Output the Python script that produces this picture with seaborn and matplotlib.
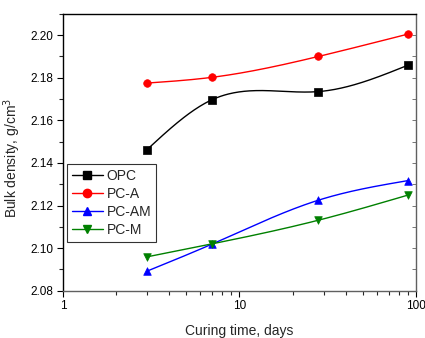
import numpy as np
import pandas as pd
import matplotlib
matplotlib.use("Agg")
import matplotlib.pyplot as plt
from matplotlib.lines import Line2D
from matplotlib.ticker import LogLocator, FixedLocator, NullFormatter, FormatStrFormatter
import seaborn as sns

# data
days = [3, 7, 28, 90]
opc = [2.1463, 2.1697, 2.1735, 2.1859]
pc_a = [2.1775, 2.1802, 2.1900, 2.2005]
pc_am = [2.0892, 2.1019, 2.1225, 2.1317]
pc_m = [2.0959, 2.1020, 2.1131, 2.1249]
names = ["OPC", "PC-A", "PC-AM", "PC-M"]
colors = ["black", "red", "blue", "green"]
markers = ["s", "o", "^", "v"]


def spline(x, y, n=200):
    # natural cubic spline through the points (in log x), used only to draw the connecting line
    x = np.log10(np.asarray(x, float))
    y = np.asarray(y, float)
    k = len(x)
    h = np.diff(x)
    A = np.zeros((k, k))
    b = np.zeros(k)
    A[0, 0] = A[-1, -1] = 1
    for i in range(1, k - 1):
        A[i, i - 1] = h[i - 1]
        A[i, i] = 2 * (h[i - 1] + h[i])
        A[i, i + 1] = h[i]
        b[i] = 6 * ((y[i + 1] - y[i]) / h[i] - (y[i] - y[i - 1]) / h[i - 1])
    M = np.linalg.solve(A, b)
    xs = np.linspace(x[0], x[-1], n)
    j = np.clip(np.searchsorted(x, xs) - 1, 0, k - 2)
    t0 = x[j + 1] - xs
    t1 = xs - x[j]
    hj = h[j]
    ys = (M[j] * t0**3 + M[j + 1] * t1**3) / (6 * hj) \
        + (y[j] / hj - M[j] * hj / 6) * t0 + (y[j + 1] / hj - M[j + 1] * hj / 6) * t1
    return 10**xs, ys


sns.set_style("ticks")
plt.rcParams['font.family'] = ['Liberation Sans', 'DejaVu Sans']

fig = plt.figure(figsize=(4.25, 3.38), dpi=100)
ax = fig.add_axes([0.148, 0.140, 0.831, 0.819])

handles = []
for name, vals, c, m in zip(names, [opc, pc_a, pc_am, pc_m], colors, markers):
    xs, ys = spline(days, vals)
    sns.lineplot(x=xs, y=ys, color=c, lw=1.0, ax=ax, legend=False, sort=False)
    df = pd.DataFrame({"days": days, "val": vals})
    sns.scatterplot(data=df, x="days", y="val", color=c, marker=m, s=30,
                    edgecolor=c, linewidth=0.5, ax=ax, legend=False, zorder=3)
    handles.append(Line2D([], [], color=c, lw=1.0, marker=m, markersize=6,
                          markeredgecolor=c, label=name))

ax.set_xscale("log")
ax.set_xlim(1, 100)
ax.set_ylim(2.08, 2.21)
ax.xaxis.set_major_locator(FixedLocator([1, 10, 100]))
ax.xaxis.set_minor_locator(LogLocator(base=10, subs=np.arange(2, 10)))
ax.xaxis.set_major_formatter(FormatStrFormatter("%g"))
ax.xaxis.set_minor_formatter(NullFormatter())
ax.yaxis.set_major_locator(FixedLocator([2.08, 2.10, 2.12, 2.14, 2.16, 2.18, 2.20]))
ax.yaxis.set_minor_locator(FixedLocator([2.09, 2.11, 2.13, 2.15, 2.17, 2.19, 2.21]))
ax.yaxis.set_major_formatter(FormatStrFormatter("%.2f"))

ax.tick_params(axis="both", which="major", direction="out", length=4, width=0.8,
               labelsize=8.5, pad=3, colors="black")
ax.tick_params(axis="both", which="minor", direction="out", length=3, width=0.8)
for side in ["top", "right"]:
    ax.spines[side].set_visible(True)
ax.spines["left"].set_color("black")
ax.spines["top"].set_color("black")
ax.spines["bottom"].set_color("#606060")
ax.spines["right"].set_color("#606060")
for sp in ax.spines.values():
    sp.set_linewidth(1.0)

# mirrored inward ticks on the right side
ax_r = ax.secondary_yaxis("right")
ax_r.yaxis.set_major_locator(FixedLocator([2.08, 2.10, 2.12, 2.14, 2.16, 2.18, 2.20]))
ax_r.yaxis.set_minor_locator(FixedLocator([2.09, 2.11, 2.13, 2.15, 2.17, 2.19, 2.21]))
ax_r.tick_params(which="both", direction="in", length=3, width=0.6, labelright=False,
                 colors="#606060")
ax_r.spines["right"].set_visible(False)

ax.set_xlabel("Curing time, days", fontsize=10, labelpad=8)
ax.set_ylabel("Bulk density, g/cm$^3$", fontsize=10)
ax.yaxis.set_label_coords(-0.113, 0.48)

leg = ax.legend(handles=handles, loc="upper left", bbox_to_anchor=(0.012, 0.458),
                frameon=True, fancybox=False, edgecolor="black", fontsize=10,
                handlelength=2.2, handletextpad=0.3, borderpad=0.35, labelspacing=0.3,
                borderaxespad=0)
leg.get_frame().set_linewidth(0.8)

fig.savefig("out.png", dpi=100)
